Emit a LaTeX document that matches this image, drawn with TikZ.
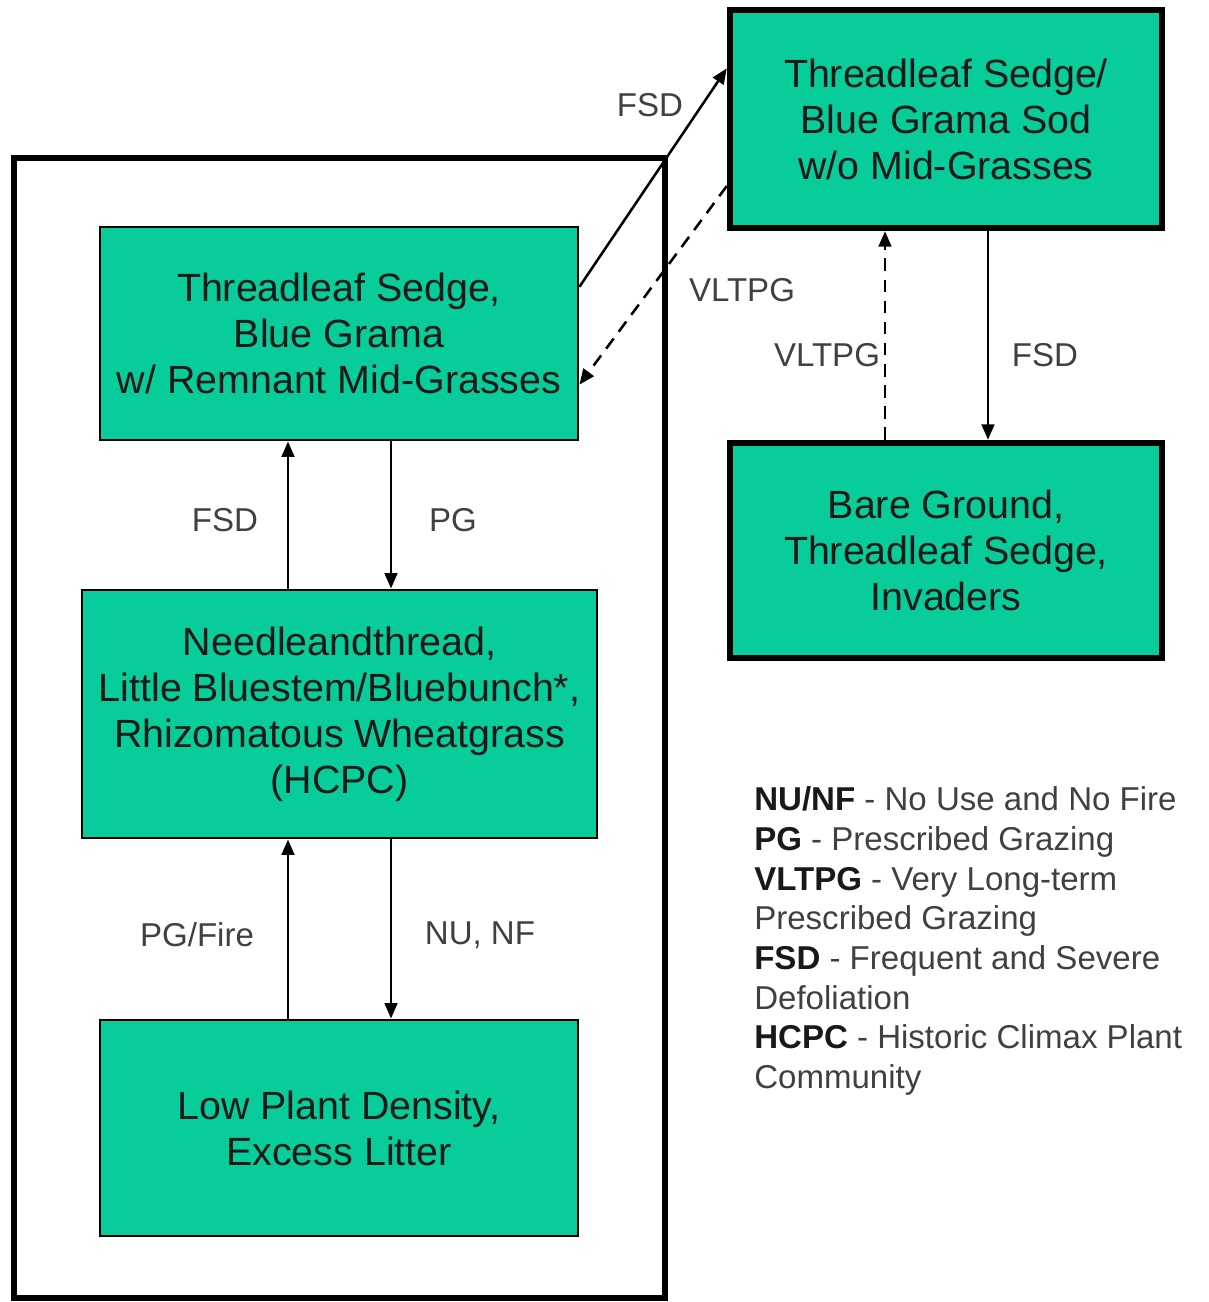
\documentclass[tikz,border=0pt]{standalone}
\usepackage{fontspec}
\setmainfont{Liberation Sans}
\usetikzlibrary{calc}
\usetikzlibrary{arrows.meta}

\definecolor{stategreen}{RGB}{8,204,153}
\definecolor{labelgray}{RGB}{64,64,64}

\begin{document}
\begin{tikzpicture}[x=0.025cm,y=-0.025cm,
  state/.style={draw=black,fill=stategreen,line width=2pt,align=center,text=black!90,
    font=\fontsize{28}{32.7}\selectfont,inner sep=0pt},
  bigstate/.style={state,line width=4.5pt},
  lab/.style={text=labelgray,font=\fontsize{23.5}{28}\selectfont,inner sep=0pt},
  arr/.style={line width=1.8pt,-{Triangle[length=11pt,width=9pt]}},
  darr/.style={arr,dash pattern=on 9pt off 6pt}]
\useasboundingbox (0,0) rectangle (1209,1302);
\draw[line width=4.5pt] (14,158) rectangle (665,1298);

\node[state,minimum width=11.95cm,minimum height=5.325cm] (s1) at (339,333.5)
  {Threadleaf Sedge,\\Blue Grama\\w/ Remnant Mid-Grasses};
\node[state,minimum width=12.875cm,minimum height=6.2cm] (s2) at (339.5,714)
  {Needleandthread,\\Little Bluestem/Bluebunch*,\\Rhizomatous Wheatgrass\\(HCPC)};
\node[state,minimum width=11.95cm,minimum height=5.4cm] (s3) at (339,1128)
  {Low Plant Density,\\Excess Litter};
\node[bigstate,minimum width=10.8cm,minimum height=5.45cm] (s4) at (946,119)
  {Threadleaf Sedge/\\Blue Grama Sod\\w/o Mid-Grasses};
\node[bigstate,minimum width=10.8cm,minimum height=5.375cm] (s5) at (946,550.5)
  {Bare Ground,\\Threadleaf Sedge,\\Invaders};

\coordinate (c1) at (288,0);
\coordinate (c2) at (391,0);
\coordinate (c3) at (885,0);
\coordinate (c4) at (988,0);

\draw[arr] (s2.north -| c1) -- (s1.south -| c1);
\draw[arr] (s1.south -| c2) -- (s2.north -| c2);
\draw[arr] (s3.north -| c1) -- (s2.south -| c1);
\draw[arr] (s2.south -| c2) -- (s3.north -| c2);
\draw[darr] (s5.north -| c3) -- (s4.south -| c3);
\draw[arr] (s4.south -| c4) -- (s5.north -| c4);
\draw[arr] (s1.11) -- (s4.167);
\draw[darr] (s4.197) -- (s1.-12);

\node[lab] (l1) at (650,105) {FSD};
\node[lab] (l2) at (742,290) {VLTPG};
\node[lab] (l3) at (225,520) {FSD};
\node[lab] (l4) at (453,520) {PG};
\node[lab] (l5) at (197,935) {PG/Fire};
\node[lab] (l6) at (480,935) {NU, NF};
\node[lab] (l7) at (827,355) {VLTPG};
\node[lab] (l8) at (1045,355) {FSD};

\node[lab,anchor=west,align=left,font=\fontsize{23.5}{28.2}\selectfont] (key) at (754,941)
  {\textcolor{black!90}{\textbf{NU/NF}} - No Use and No Fire\\
   \textcolor{black!90}{\textbf{PG}} - Prescribed Grazing\\
   \textcolor{black!90}{\textbf{VLTPG}} - Very Long-term\\
   Prescribed Grazing\\
   \textcolor{black!90}{\textbf{FSD}} - Frequent and Severe\\
   Defoliation\\
   \textcolor{black!90}{\textbf{HCPC}} - Historic Climax Plant\\
   Community};
\end{tikzpicture}
\end{document}
